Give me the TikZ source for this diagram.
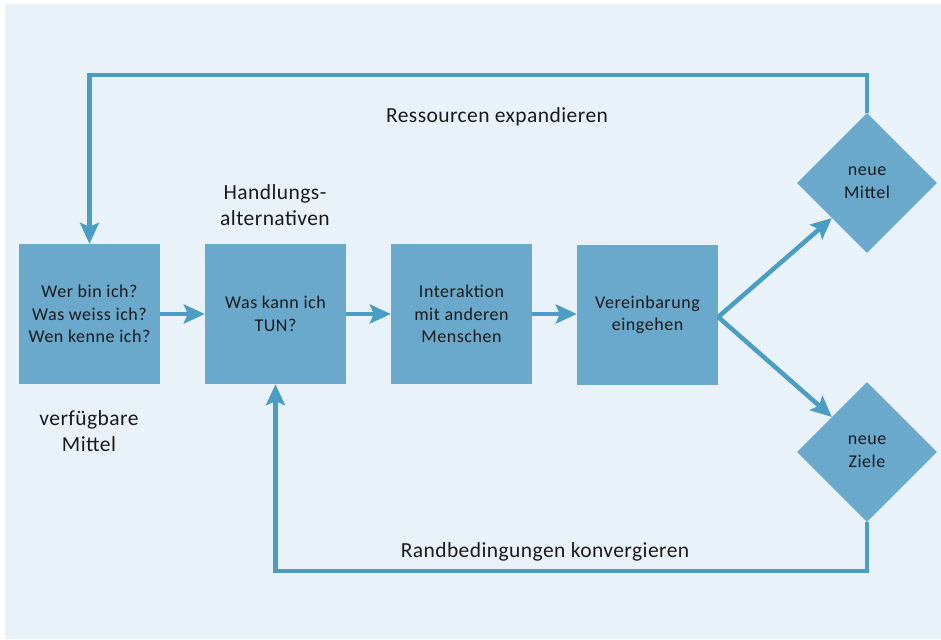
\documentclass[tikz,border=0pt]{standalone}
\usepackage{fontspec}
\setmainfont{Carlito}
\usepackage{tikz}
\usetikzlibrary{shapes.geometric,arrows.meta}
\definecolor{panelbg}{HTML}{E9F2F8}
\definecolor{boxblue}{HTML}{6AA9CB}
\definecolor{flowblue}{HTML}{4A9DC3}
\definecolor{inktext}{HTML}{1A1A1A}

\tikzset{
  stepbox/.style={fill=boxblue, minimum width=141pt, minimum height=140pt, inner sep=0pt,
    align=center, text=inktext, font=\fontsize{18}{22.5}\selectfont\addfontfeatures{LetterSpace=3}},
  goal/.style={diamond, fill=boxblue, minimum width=140pt, minimum height=140pt, inner sep=0pt,
    align=center, text=inktext, font=\fontsize{18}{23}\selectfont\addfontfeatures{LetterSpace=3}},
  flow/.style={draw=flowblue, line width=4.5pt, -{Stealth[length=21pt, width=19pt, inset=4pt]}},
  caption/.style={align=center, text=inktext, font=\fontsize{21.5}{26}\selectfont\addfontfeatures{LetterSpace=2}}
}

\begin{document}
\begin{tikzpicture}[x=1pt, y=-1pt]
  \useasboundingbox (0,0) rectangle (941,639);
  \fill[panelbg] (5,4) rectangle (941,639);

  % boxes
  \node[stepbox] (wer) at (89.5,314) {Wer bin ich?\\Was weiss ich?\\Wen kenne ich?};
  \node[stepbox] (tun) at (275.5,314) {Was kann ich\\TUN?};
  \node[stepbox] (inter) at (461.5,314) {Interaktion\\mit anderen\\Menschen};
  \node[stepbox] (verein) at (647.5,315) {Vereinbarung\\eingehen};

  % diamonds
  \node[goal] (mittel) at (867,183) {neue\\Mittel};
  \node[goal] (ziele) at (867,452) {neue\\Ziele};

  % labels
  \node[caption] (ressourcen) at (497,117) {Ressourcen expandieren};
  \node[caption] (handlung) at (275,205) {Handlungs-\\alternativen};
  \node[caption] (verfuegbar) at (89,431) {verfügbare\\Mittel};
  \node[caption] (randbed) at (545,552) {Randbedingungen konvergieren};

  % arrows
  \draw[flow] (wer.east) -- (tun.west);
  \draw[flow] (tun.east) -- (inter.west);
  \draw[flow] (inter.east) -- (inter.east -| verein.west);
  \draw[flow] ([yshift=-2pt]verein.east) -- (mittel.south west);
  \draw[flow] ([yshift=-2pt]verein.east) -- (ziele.north west);

  % feedback loops
  \draw[flow] (mittel.north) -- ++(0,-38) -| (wer.north);
  \draw[flow] (ziele.south) -- ++(0,49) -| (tun.south);
\end{tikzpicture}
\end{document}
